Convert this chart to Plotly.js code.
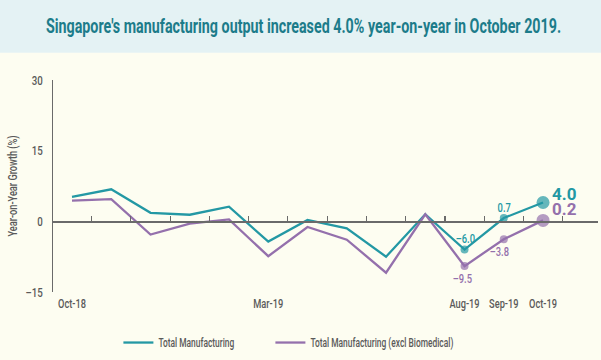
<!DOCTYPE html>
<html>
<head>
<meta charset="utf-8">
<script src="https://cdn.plot.ly/plotly-3.0.1.min.js"></script>
<style>html,body{margin:0;padding:0;background:#fdfdf1;}</style>
</head>
<body>
<div id="chart" style="width:601px;height:360px;"></div>
<script>
// Data
const months = ["Oct-18","Nov-18","Dec-18","Jan-19","Feb-19","Mar-19","Apr-19","May-19","Jun-19","Jul-19","Aug-19","Sep-19","Oct-19"];
const totalMfg = [5.2, 6.8, 1.8, 1.4, 3.1, -4.3, 0.3, -1.5, -7.5, 1.5, -6.0, 0.7, 4.0];
const exclBiomed = [4.4, 4.7, -2.8, -0.5, 0.4, -7.4, -1.2, -3.9, -10.9, 1.5, -9.5, -3.8, 0.2];
const labelMonths = ["Oct-18","Mar-19","Aug-19","Sep-19","Oct-19"];
const yTicks = [30, 15, 0, -15];
const yTickText = ["30", "15", "0", "–15"];
const seriesNames = ["Total Manufacturing", "Total Manufacturing (excl Biomedical)"];

const TEAL = "#2398a4";
const PURPLE = "#9470ac";
const GREY = "#5a5a5a";
const FONT = "Roboto, 'Liberation Sans', sans-serif";

const n = months.length;
const markerSizes = months.map((m, i) => i === n - 1 ? 13 : (i >= n - 3 ? 8 : 0));

const traces = [
  {x: months, y: totalMfg, name: seriesNames[0], type: "scatter", mode: "lines",
   line: {color: TEAL, width: 2.3}},
  {x: months, y: exclBiomed, name: seriesNames[1], type: "scatter", mode: "lines",
   line: {color: PURPLE, width: 2.3}},
  {x: months, y: totalMfg, type: "scatter", mode: "markers", showlegend: false,
   marker: {color: TEAL, size: markerSizes, line: {width: 0}}},
  {x: months, y: exclBiomed, type: "scatter", mode: "markers", showlegend: false,
   marker: {color: PURPLE, size: markerSizes, line: {width: 0}}}
];

const ann = [];
function fmt(v){ return (v < 0 ? "–" : "") + Math.abs(v).toFixed(1); }
[n - 3, n - 2].forEach(i => {
  ann.push({x: months[i], y: totalMfg[i], text: fmt(totalMfg[i]), showarrow: false,
    yshift: 11, xshift: i === n - 3 ? 1 : 0, font: {family: FONT, weight: 500, size: 13, color: TEAL}});
  ann.push({x: months[i], y: exclBiomed[i], text: fmt(exclBiomed[i]), showarrow: false,
    yshift: -12, xshift: i === n - 3 ? -2 : -4, font: {family: FONT, weight: 500, size: 13, color: PURPLE}});
});
ann.push({x: months[n - 1], y: totalMfg[n - 1], text: "<b>" + fmt(totalMfg[n - 1]) + "</b>", showarrow: false,
  xanchor: "left", xshift: 7, yshift: 8, font: {family: FONT, size: 17, color: TEAL}});
ann.push({x: months[n - 1], y: exclBiomed[n - 1], text: "<b>" + fmt(exclBiomed[n - 1]) + "</b>", showarrow: false,
  xanchor: "left", xshift: 7, yshift: 11, font: {family: FONT, size: 17, color: PURPLE}});

const boundaryTicks = months.map((m, i) => i + 0.5);

const layout = {
  width: 601, height: 360,
  paper_bgcolor: "#fdfdf1", plot_bgcolor: "#fdfdf1",
  margin: {l: 53, r: 3, t: 80, b: 63},
  font: {family: FONT, color: GREY, size: 12},
  title: {text: "<b>Singapore's manufacturing output increased 4.0% year-on-year in October 2019.</b>",
    x: 0.505, xanchor: "center", y: 0.928, yanchor: "middle", yref: "container",
    font: {family: FONT, size: 20, color: "#1c7c8a"}},
  shapes: [
    {type: "rect", xref: "paper", yref: "paper", x0: -0.2, x1: 1.1, y0: 1.129, y1: 1.4,
     fillcolor: "#e4f2f4", line: {width: 0}, layer: "below"}
  ],
  xaxis: {type: "category", range: [-0.484, 13.4], showline: false, showgrid: false, zeroline: false,
    tickvals: labelMonths, ticktext: labelMonths, ticks: "", tickangle: 0, ticklabelstandoff: 3,
    tickfont: {family: FONT, weight: 500, size: 12.5, color: GREY}, fixedrange: true},
  xaxis2: {overlaying: "x", type: "linear", range: [-0.484, 13.4], anchor: "free", position: 15 / 45,
    showline: true, linecolor: "#6a6a6a", linewidth: 1.5, ticks: "inside", ticklen: 5, tickwidth: 1.2,
    tickcolor: "#6a6a6a", tickvals: boundaryTicks, showticklabels: false, showgrid: false, zeroline: false},
  yaxis: {range: [-15, 30], tickvals: yTicks, ticktext: yTickText, showgrid: false, zeroline: false,
    showline: true, linecolor: "#6a6a6a", linewidth: 1.5, ticks: "", ticklabelstandoff: 6,
    tickfont: {family: FONT, weight: 500, size: 13.5, color: GREY},
    title: {text: "Year-on-Year Growth (%)", standoff: 4, font: {family: FONT, weight: 500, size: 12, color: GREY}}},
  showlegend: true,
  legend: {orientation: "h", x: 0.12, xanchor: "left", y: -0.17, yanchor: "top",
    font: {family: FONT, weight: 500, size: 12, color: GREY}, itemwidth: 30, bgcolor: "rgba(0,0,0,0)",
    traceorder: "normal", entrywidth: 107, entrywidthmode: "pixels", itemclick: false},
  annotations: ann
};

traces.push({x: [0], y: [0], xaxis: "x2", type: "scatter", mode: "markers", marker: {opacity: 0}, showlegend: false, hoverinfo: "skip"});

// Horizontally condense text (the original uses a condensed typeface)
function condense(selector, s, dx) {
  document.querySelectorAll(selector).forEach(t => {
    const b = t.getBBox();
    const anchor = t.getAttribute("text-anchor") || getComputedStyle(t).textAnchor || "start";
    let cx = b.x;
    if (anchor === "middle") cx = b.x + b.width / 2;
    else if (anchor === "end") cx = b.x + b.width;
    const prev = t.getAttribute("transform") || "";
    const shift = dx ? "translate(" + dx + ",0) " : "";
    t.setAttribute("transform", shift + prev + " translate(" + cx + ",0) scale(" + s + ",1) translate(" + (-cx) + ",0)");
  });
}

Plotly.newPlot("chart", traces, layout, {displayModeBar: false, staticPlot: true}).then(() => {
  condense("#chart .gtitle", 0.715);
  condense("#chart .xtick text", 0.74);
  condense("#chart .ytick text", 0.72);
  condense("#chart .ytitle", 0.77, 6);
  condense("#chart .legendtext", 0.7);
  [0, 1, 2, 3].forEach(i => condense('#chart .annotation[data-index="' + i + '"] text', 0.72));
  document.querySelectorAll("#chart .legend [clip-path]").forEach(e => e.removeAttribute("clip-path"));
});
</script>
</body>
</html>
